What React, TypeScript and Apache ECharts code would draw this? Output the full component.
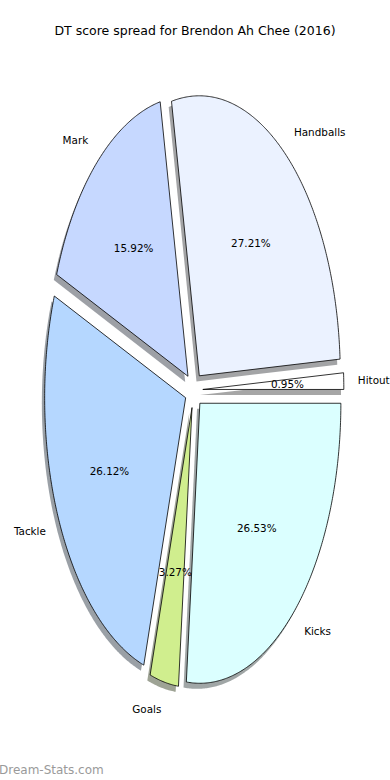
import React, { useEffect, useRef } from "react";
import * as echarts from "echarts";

const categories = ["Hitout", "Handballs", "Mark", "Tackle", "Goals", "Kicks"];
const values = [0.95, 27.21, 15.92, 26.12, 3.27, 26.53];
const colors = ["#FFFFFF", "#EBF2FF", "#C6D8FF", "#B5D7FF", "#D0EE8E", "#DBFFFF"];
const explode = [0.064, 0.064, 0.064, 0.064, 0.064, 0.064];
const titleText = "DT score spread for Brendon Ah Chee (2016)";
const watermark = "Dream-Stats.com";

const FONT = "DejaVu Sans";

function darken(hex: string): string {
  const n = parseInt(hex.slice(1), 16);
  const r = Math.round(((n >> 16) & 255) * 0.3);
  const g = Math.round(((n >> 8) & 255) * 0.3);
  const b = Math.round((n & 255) * 0.3);
  return `rgb(${r},${g},${b})`;
}

export default function App() {
  const ref = useRef<HTMLDivElement>(null);

  useEffect(() => {
    document.body.style.margin = "0";
    if (!ref.current) return;
    const chart = echarts.init(ref.current, undefined, { renderer: "svg" });

    const total = values.reduce((a, b) => a + b, 0);
    const starts: number[] = [];
    let acc = 0;
    values.forEach((v) => {
      starts.push((acc / total) * 360);
      acc += v;
    });

    const cx = 193.8;
    const cy = 390;
    const rx = 141;
    const ry = 280;
    const shadowDx = -0.02 * rx;
    const shadowDy = 0.02 * ry;

    const geom = (idx: number) => {
      const v = values[idx];
      const a1 = starts[idx];
      const a2 = a1 + (v / total) * 360;
      const mid = ((a1 + a2) / 2) * (Math.PI / 180);
      const e = explode[idx];
      const ox = cx + e * rx * Math.cos(mid);
      const oy = cy - e * ry * Math.sin(mid);
      const pts: number[][] = [[ox, oy]];
      const steps = Math.max(4, Math.ceil((a2 - a1) / 0.5));
      for (let i = 0; i <= steps; i++) {
        const a = (a1 + ((a2 - a1) * i) / steps) * (Math.PI / 180);
        pts.push([ox + rx * Math.cos(a), oy - ry * Math.sin(a)]);
      }
      return { pts, mid, ox, oy, v };
    };

    const shadowRender = (params: any, api: any) => {
      const idx = params.dataIndex;
      const g = geom(idx);
      return {
        type: "polygon",
        silent: true,
        shape: { points: g.pts.map((p) => [p[0] + shadowDx, p[1] + shadowDy]) },
        style: { fill: darken(colors[idx]), opacity: 0.5, stroke: "none" },
      };
    };

    const wedgeRender = (params: any, api: any) => {
      const idx = params.dataIndex;
      const g = geom(idx);
      const cos = Math.cos(g.mid);
      const sin = Math.sin(g.mid);
      const lx = g.ox + 1.1 * rx * cos;
      const ly = g.oy - 1.1 * ry * sin;
      const px = g.ox + 0.6 * rx * cos;
      const py = g.oy - 0.6 * ry * sin;
      return {
        type: "group",
        silent: true,
        children: [
          {
            type: "polygon",
            shape: { points: g.pts },
            style: { fill: colors[idx], stroke: "#000000", lineWidth: 0.8 },
          },
          {
            type: "text",
            x: lx,
            y: ly,
            z2: 20,
            style: {
              text: categories[idx],
              fill: "#000000",
              font: `10.4px "${FONT}"`,
              align: cos > 0 ? "left" : "right",
              verticalAlign: "middle",
            },
          },
          {
            type: "text",
            x: px,
            y: py,
            z2: 20,
            style: {
              text: ((g.v / total) * 100).toFixed(2) + "%",
              fill: "#000000",
              font: `10.4px "${FONT}"`,
              align: "center",
              verticalAlign: "middle",
            },
          },
        ],
      };
    };

    chart.setOption({
      animation: false,
      backgroundColor: "#ffffff",
      title: {
        text: titleText,
        left: "center",
        top: 19,
        textStyle: { fontFamily: FONT, fontSize: 12.5, fontWeight: "normal", color: "#000000" },
      },
      graphic: [
        {
          type: "text",
          left: -1,
          top: 764,
          silent: true,
          style: { text: watermark, fill: "#9a9a9a", font: `12px "${FONT}"` },
        },
      ],
      series: [
        {
          type: "custom",
          coordinateSystem: "none",
          data: values,
          renderItem: shadowRender,
          z: 1,
        },
        {
          type: "custom",
          coordinateSystem: "none",
          data: values,
          renderItem: wedgeRender,
          z: 2,
        },
      ],
    });

    return () => chart.dispose();
  }, []);

  return <div ref={ref} style={{ width: 390, height: 780 }} />;
}
